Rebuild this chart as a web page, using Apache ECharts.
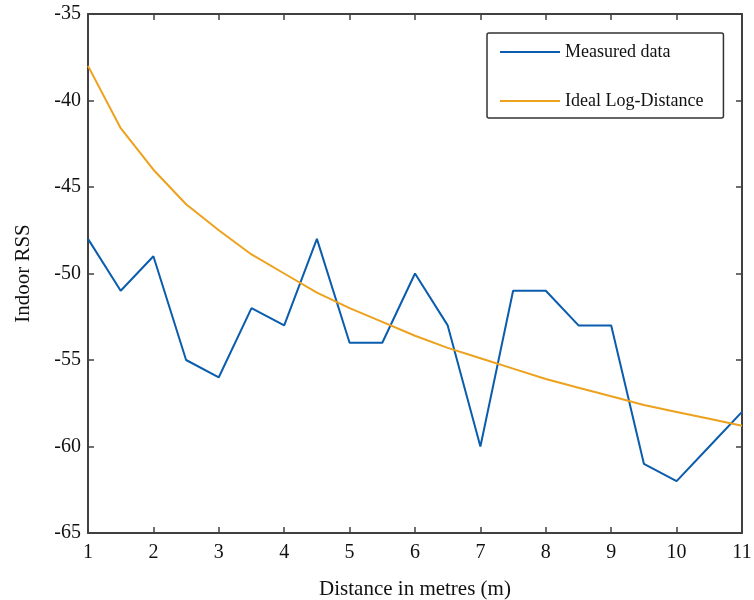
<!DOCTYPE html>
<html><head><meta charset="utf-8">
<script src="https://cdn.jsdelivr.net/npm/echarts@6/dist/echarts.min.js"></script>
<style>html,body{margin:0;padding:0;background:#fff}#c{width:754px;height:600px}</style>
</head><body><div id="c"></div>
<script>
const distances = [1,1.5,2,2.5,3,3.5,4,4.5,5,5.5,6,6.5,7,7.5,8,8.5,9,9.5,10,10.5,11];
const measured = [-48,-51,-49,-55,-56,-52,-53,-48,-54,-54,-50,-53,-60,-51,-51,-53,-53,-61,-62,-60,-58];
const ideal = [-38,-41.6,-44,-46,-47.5,-48.9,-50,-51.1,-52,-52.8,-53.6,-54.3,-54.9,-55.5,-56.1,-56.6,-57.1,-57.6,-58,-58.4,-58.8];
const xTicks = [1,2,3,4,5,6,7,8,9,10,11];
const yTicks = [-65,-60,-55,-50,-45,-40,-35];

const font = 'Liberation Serif';
const axisCol = '#404040';
const chart = echarts.init(document.getElementById('c'), null, {renderer:'canvas'});
const pair = (xs, ys) => xs.map((x,i)=>[x, ys[i]]);
const baseX = {
  type:'value', min:xTicks[0], max:xTicks[xTicks.length-1], interval:1,
  axisLine:{show:true, onZero:false, lineStyle:{color:axisCol, width:2}},
  axisTick:{show:true, inside:true, length:6, lineStyle:{color:axisCol, width:1.5}},
  splitLine:{show:false}
};
const baseY = {
  type:'value', min:yTicks[0], max:yTicks[yTicks.length-1], interval:5,
  axisLine:{show:true, onZero:false, lineStyle:{color:axisCol, width:2}},
  axisTick:{show:true, inside:true, length:6, lineStyle:{color:axisCol, width:1.5}},
  splitLine:{show:false}
};
chart.setOption({
  animation:false,
  backgroundColor:'#fff',
  grid:{left:88, right:12, top:14, bottom:67, containLabel:false, outerBoundsMode:'none'},
  xAxis:[
    Object.assign({}, baseX, {position:'bottom', name:'Distance in metres (m)', nameLocation:'middle', nameGap:46,
      nameTextStyle:{fontFamily:font, fontSize:21, color:'#111'},
      axisLabel:{fontFamily:font, fontSize:20, color:'#111', margin:10}}),
    Object.assign({}, baseX, {position:'top', axisLabel:{show:false}})
  ],
  yAxis:[
    Object.assign({}, baseY, {position:'left', name:'Indoor RSS', nameLocation:'middle', nameGap:54,
      nameTextStyle:{fontFamily:font, fontSize:21, color:'#111'},
      axisLabel:{fontFamily:font, fontSize:20, color:'#111', margin:7}}),
    Object.assign({}, baseY, {position:'right', axisLabel:{show:false}})
  ],
  legend:{
    left:487, top:33, orient:'vertical', icon:'rect', itemWidth:60, itemHeight:2, itemGap:31,
    padding:[10,20,8,13], borderColor:'#333', borderWidth:1.5, borderRadius:2,
    backgroundColor:'#fff',
    textStyle:{fontFamily:font, fontSize:18, color:'#111'},
    data:['Measured data','Ideal Log-Distance']
  },
  series:[
    {name:'Measured data', type:'line', symbol:'none', data:pair(distances, measured),
      lineStyle:{color:'#0a5cad', width:2}, itemStyle:{color:'#0a5cad'}},
    {name:'Ideal Log-Distance', type:'line', symbol:'none', data:pair(distances, ideal),
      lineStyle:{color:'#eda11c', width:2}, itemStyle:{color:'#eda11c'}}
  ]
});
</script></body></html>
